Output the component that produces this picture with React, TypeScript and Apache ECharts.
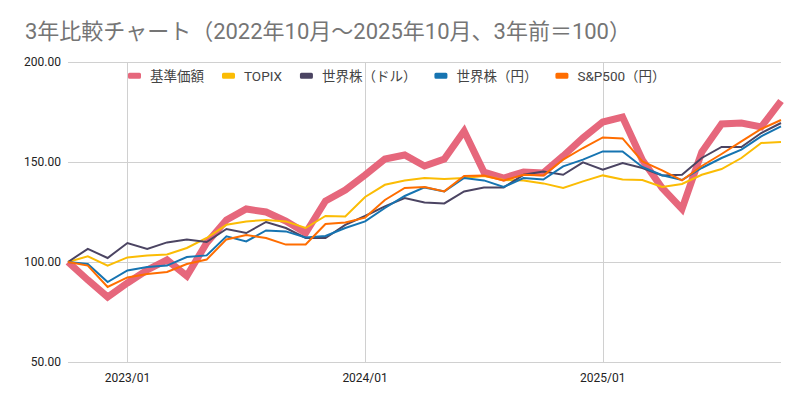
import React, { useEffect, useRef } from "react";
import * as echarts from "echarts";

const TITLE = "3年比較チャート（2022年10月～2025年10月、3年前＝100）";

const months = [
  "2022/10", "2022/11", "2022/12",
  "2023/01", "2023/02", "2023/03", "2023/04", "2023/05", "2023/06", "2023/07", "2023/08", "2023/09", "2023/10", "2023/11", "2023/12",
  "2024/01", "2024/02", "2024/03", "2024/04", "2024/05", "2024/06", "2024/07", "2024/08", "2024/09", "2024/10", "2024/11", "2024/12",
  "2025/01", "2025/02", "2025/03", "2025/04", "2025/05", "2025/06", "2025/07", "2025/08", "2025/09", "2025/10",
];

const yTicks = [50, 100, 150, 200];

const seriesNames = ["基準価額", "TOPIX", "世界株（ドル）", "世界株（円）", "S&P500（円）"];

const fundNav = [100, 91, 82.5, 89.5, 96, 101, 93, 109.5, 121, 126.5, 125, 120.5, 114.5, 130.5, 136, 143.5, 151.5, 153.5, 148, 151.5, 165.5, 145, 142, 145, 144.5, 153, 162, 170, 172.5, 151, 137, 126.5, 155, 169, 169.5, 167.5, 180.5];
const topix = [100, 102.8, 98.2, 102.3, 103.2, 103.8, 107, 112, 118.6, 120.3, 121, 120.3, 117, 123, 122.8, 132.5, 138.6, 140.8, 142, 141.5, 142, 143, 141, 140.8, 139.3, 137, 140.3, 143.3, 141.2, 141, 137.5, 139, 143.6, 146.5, 152, 159.5, 160];
const worldUsd = [100, 106.6, 102, 109.5, 106.5, 109.8, 111.3, 110, 116.5, 114.5, 120, 117, 112, 112, 118.6, 123, 127.8, 132, 129.8, 129.3, 135.3, 137.3, 137.3, 143.6, 145.3, 143.6, 149.8, 146.2, 149.5, 147, 143.3, 143.6, 152, 157.5, 157.5, 164.5, 169.5];
const worldJpy = [100, 99, 90, 95.8, 97.5, 98.2, 102.5, 103.3, 112.8, 110.3, 115.8, 115.3, 112.3, 113, 117, 120.3, 127, 133, 137.3, 135.3, 142, 140.8, 137.5, 142, 141.2, 147.8, 151.2, 155.3, 155.3, 147.5, 143.4, 141, 147, 152, 156.2, 162.8, 167.8];
const sp500Jpy = [100, 98.2, 87.5, 92.3, 94, 95, 99, 101.2, 111.3, 113.5, 112, 108.7, 108.8, 119, 119.8, 122.2, 131, 137, 137.5, 135.3, 143, 143.2, 140.8, 143.6, 143.2, 151.2, 157, 162.3, 161.8, 150.3, 145.8, 140.8, 148, 154, 160.3, 166.5, 171];

const seriesData = [fundNav, topix, worldUsd, worldJpy, sp500Jpy];
const colors = ["#e6677c", "#fbbc04", "#4b4462", "#1674b1", "#ff6d00"];
const widths = [7, 2, 2, 2, 2];

const FONT = "Roboto, 'Noto Sans CJK JP', sans-serif";

export default function App() {
  const ref = useRef<HTMLDivElement>(null);
  useEffect(() => {
    if (!ref.current) return;
    const chart = echarts.init(ref.current, undefined, { renderer: "svg" });
    const isJan = (_i: number, v: string) => v.endsWith("/01");
    chart.setOption({
      animation: false,
      backgroundColor: "#ffffff",
      textStyle: { fontFamily: FONT },
      title: {
        text: TITLE,
        left: 20,
        top: 15,
        textStyle: { fontFamily: FONT, fontSize: 22, fontWeight: "normal", color: "#757575" },
      },
      legend: {
        data: seriesNames,
        left: 123,
        top: 64,
        icon: "roundRect",
        itemWidth: 13,
        itemHeight: 6,
        itemGap: 18,
        textStyle: { fontFamily: FONT, fontSize: 13.5, color: "#444", padding: [0, 0, 0, 4] },
      },
      grid: { left: 68, right: 19, top: 62, bottom: 41, containLabel: false },
      xAxis: {
        type: "category",
        data: months,
        boundaryGap: false,
        axisTick: { show: false },
        axisLine: { show: false },
        axisLabel: {
          interval: isJan,
          margin: 10,
          fontFamily: FONT,
          fontSize: 12,
          color: "#222",
        },
        splitLine: { show: true, interval: isJan, lineStyle: { color: "#d0d0d0", width: 1 } },
      },
      yAxis: {
        type: "value",
        min: yTicks[0],
        max: yTicks[yTicks.length - 1],
        interval: 50,
        axisLine: { show: false },
        axisTick: { show: false },
        axisLabel: {
          margin: 7,
          fontFamily: FONT,
          fontSize: 12,
          color: "#222",
          formatter: (v: number) => v.toFixed(2),
        },
        splitLine: { lineStyle: { color: "#d0d0d0", width: 1 } },
      },
      series: seriesNames.map((name, i) => ({
        name,
        type: "line",
        data: seriesData[i],
        symbol: "none",
        showSymbol: false,
        color: colors[i],
        lineStyle: { color: colors[i], width: widths[i], join: "miter" },
        emphasis: { disabled: true },
      })),
    });
    return () => chart.dispose();
  }, []);
  return <div ref={ref} style={{ width: 800, height: 403, position: "absolute", left: 0, top: 0 }} />;
}
